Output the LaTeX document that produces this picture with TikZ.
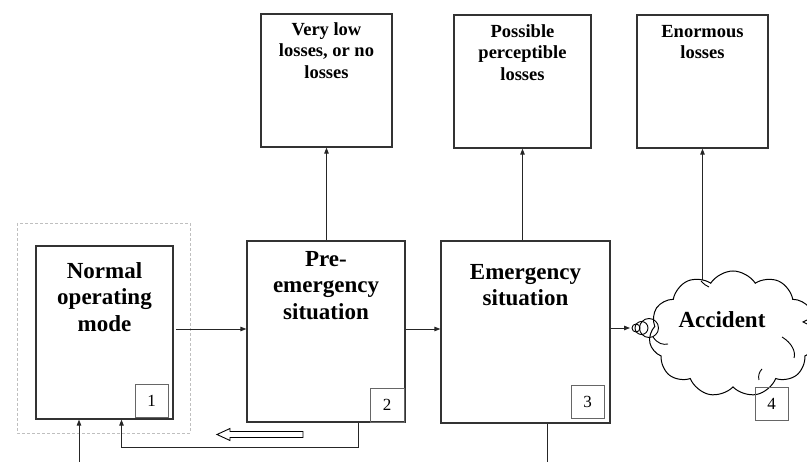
\documentclass[tikz,border=0pt]{standalone}
\usepackage{fontspec}
\setmainfont{Liberation Serif}
\usetikzlibrary{arrows.meta,shapes.symbols,calc}
\pgfdeclarelayer{bg}
\pgfsetlayers{bg,main}
\begin{document}
\begin{tikzpicture}[x=1pt,y=-1pt,
  frame/.style={draw=black!80,line width=1.2pt,inner sep=0pt},
  numbox/.style={draw=black!60,line width=0.9pt,minimum width=33pt,minimum height=33pt,
                 inner sep=0pt,font=\fontsize{17}{17}\selectfont},
  big/.style={font=\bfseries\fontsize{23}{26.5}\selectfont,align=center,inner sep=0pt,anchor=north},
  small/.style={font=\bfseries\fontsize{18.5}{21.5}\selectfont,align=center,inner sep=0pt,anchor=north},
  link/.style={draw=black!85,line width=0.9pt},
  arr/.style={link,-{Triangle[length=6pt,width=4.5pt]}},
  ring/.style={circle,draw=black,line width=0.9pt,inner sep=0pt}
]
\useasboundingbox (0,0) rectangle (807,462);

% outer grey frame around the normal mode
\draw[draw=black!25,line width=0.8pt,densely dashed] (17,223) rectangle (190,433);

% main state boxes
\node[frame,minimum width=137pt,minimum height=173pt] (b1) at (104.5,332.5) {};
\node[frame,minimum width=158pt,minimum height=181pt] (b2) at (326,331.5) {};
\node[frame,minimum width=169pt,minimum height=182pt] (b3) at (525.5,332) {};

\node[big] at (104.5,262) {Normal\\operating\\mode};
\node[big] at (326,251) {Pre-\\emergency\\situation};
\node[big] at (525.5,264) {Emergency\\situation};

% loss boxes
\node[frame,minimum width=131pt,minimum height=133pt] (lossA) at (326.5,80.5) {};
\node[frame,minimum width=137pt,minimum height=133pt] (lossB) at (522.5,81.5) {};
\node[frame,minimum width=131pt,minimum height=133pt] (lossC) at (702.5,81.5) {};

\node[small] at (326.5,22) {Very low\\losses, or no\\losses};
\node[small] at (522.5,24) {Possible\\perceptible\\losses};
\node[small] at (702.5,25) {Enormous\\losses};

% connector into the accident cloud (hidden under its fill)
\begin{pgfonlayer}{bg}
  \coordinate (accIn) at (702,330);
  \draw[arr] (accIn) -- (accIn -| lossC.south) -- (lossC.south);
\end{pgfonlayer}

% accident cloud
\node[cloud,draw=black,line width=1pt,fill=white,cloud puffs=11,cloud puff arc=115,
      aspect=1.4,minimum width=168pt,minimum height=126pt,inner sep=0pt] (acc) at (733,334) {};
\node[big] at (722,311) {Accident};
% inner puff arcs
\draw[line width=0.9pt] (653,337) .. controls (658,344) and (663,345) .. (668,344);
\draw[line width=0.9pt] (701,281) .. controls (704,284) and (706,286) .. (709,287);
\draw[line width=0.9pt] (782,337) .. controls (792,343) and (796,352) .. (794,358);
\draw[line width=0.9pt] (762,369) .. controls (759,372) and (758,376) .. (759,380);
\draw[line width=0.9pt] (807,320) -- (803,322) -- (807,324);

% bubble tail
\node[ring,minimum size=8pt] (c1) at (636,328) {};
\node[ring,minimum size=13pt] (c2) at (641.5,328) {};
\node[ring,minimum size=19pt] (c3) at (649,328) {};

% number tags
\node[numbox] (n1) at (151.5,400.5) {1};
\node[numbox,minimum width=34pt,minimum height=34pt] (n2) at (387,405) {2};
\node[numbox] (n3) at (587.5,402) {3};
\node[numbox] (n4) at (771.5,403.5) {4};

% forward transitions
\draw[arr] ([shift={(2.5,-3.5)}]b1.east) coordinate (p1) -- (p1 -| b2.west);
\draw[arr] ([yshift=2.5pt]b2.east) coordinate (p2) -- (p2 -| b3.west);
\draw[arr,shorten >=1.5pt] ([yshift=4pt]b3.east) coordinate (p3) -- (p3 -| c1.west);

% loss outcomes
\draw[arr] (b2.north -| lossA.south) -- (lossA.south);
\draw[arr] (b3.north -| lossB.south) -- (lossB.south);

% return path to normal mode
\draw[arr] ([xshift=32pt]b2.south) -- ++(0,25) -| ([xshift=17pt]b1.south);
\draw[line width=0.9pt,fill=white] (303,431.5) -- (230,431.5) -- (230,428.5) -- (217,434.5)
      -- (230,440.5) -- (230,437.5) -- (303,437.5) -- cycle;

% incoming and outgoing lines at the lower edge
\coordinate (in1) at (79,462);
\draw[arr] (in1) -- (in1 |- b1.south);
\coordinate (out3) at (547,462);
\draw[link] (b3.south -| out3) -- (out3);
\end{tikzpicture}
\end{document}
